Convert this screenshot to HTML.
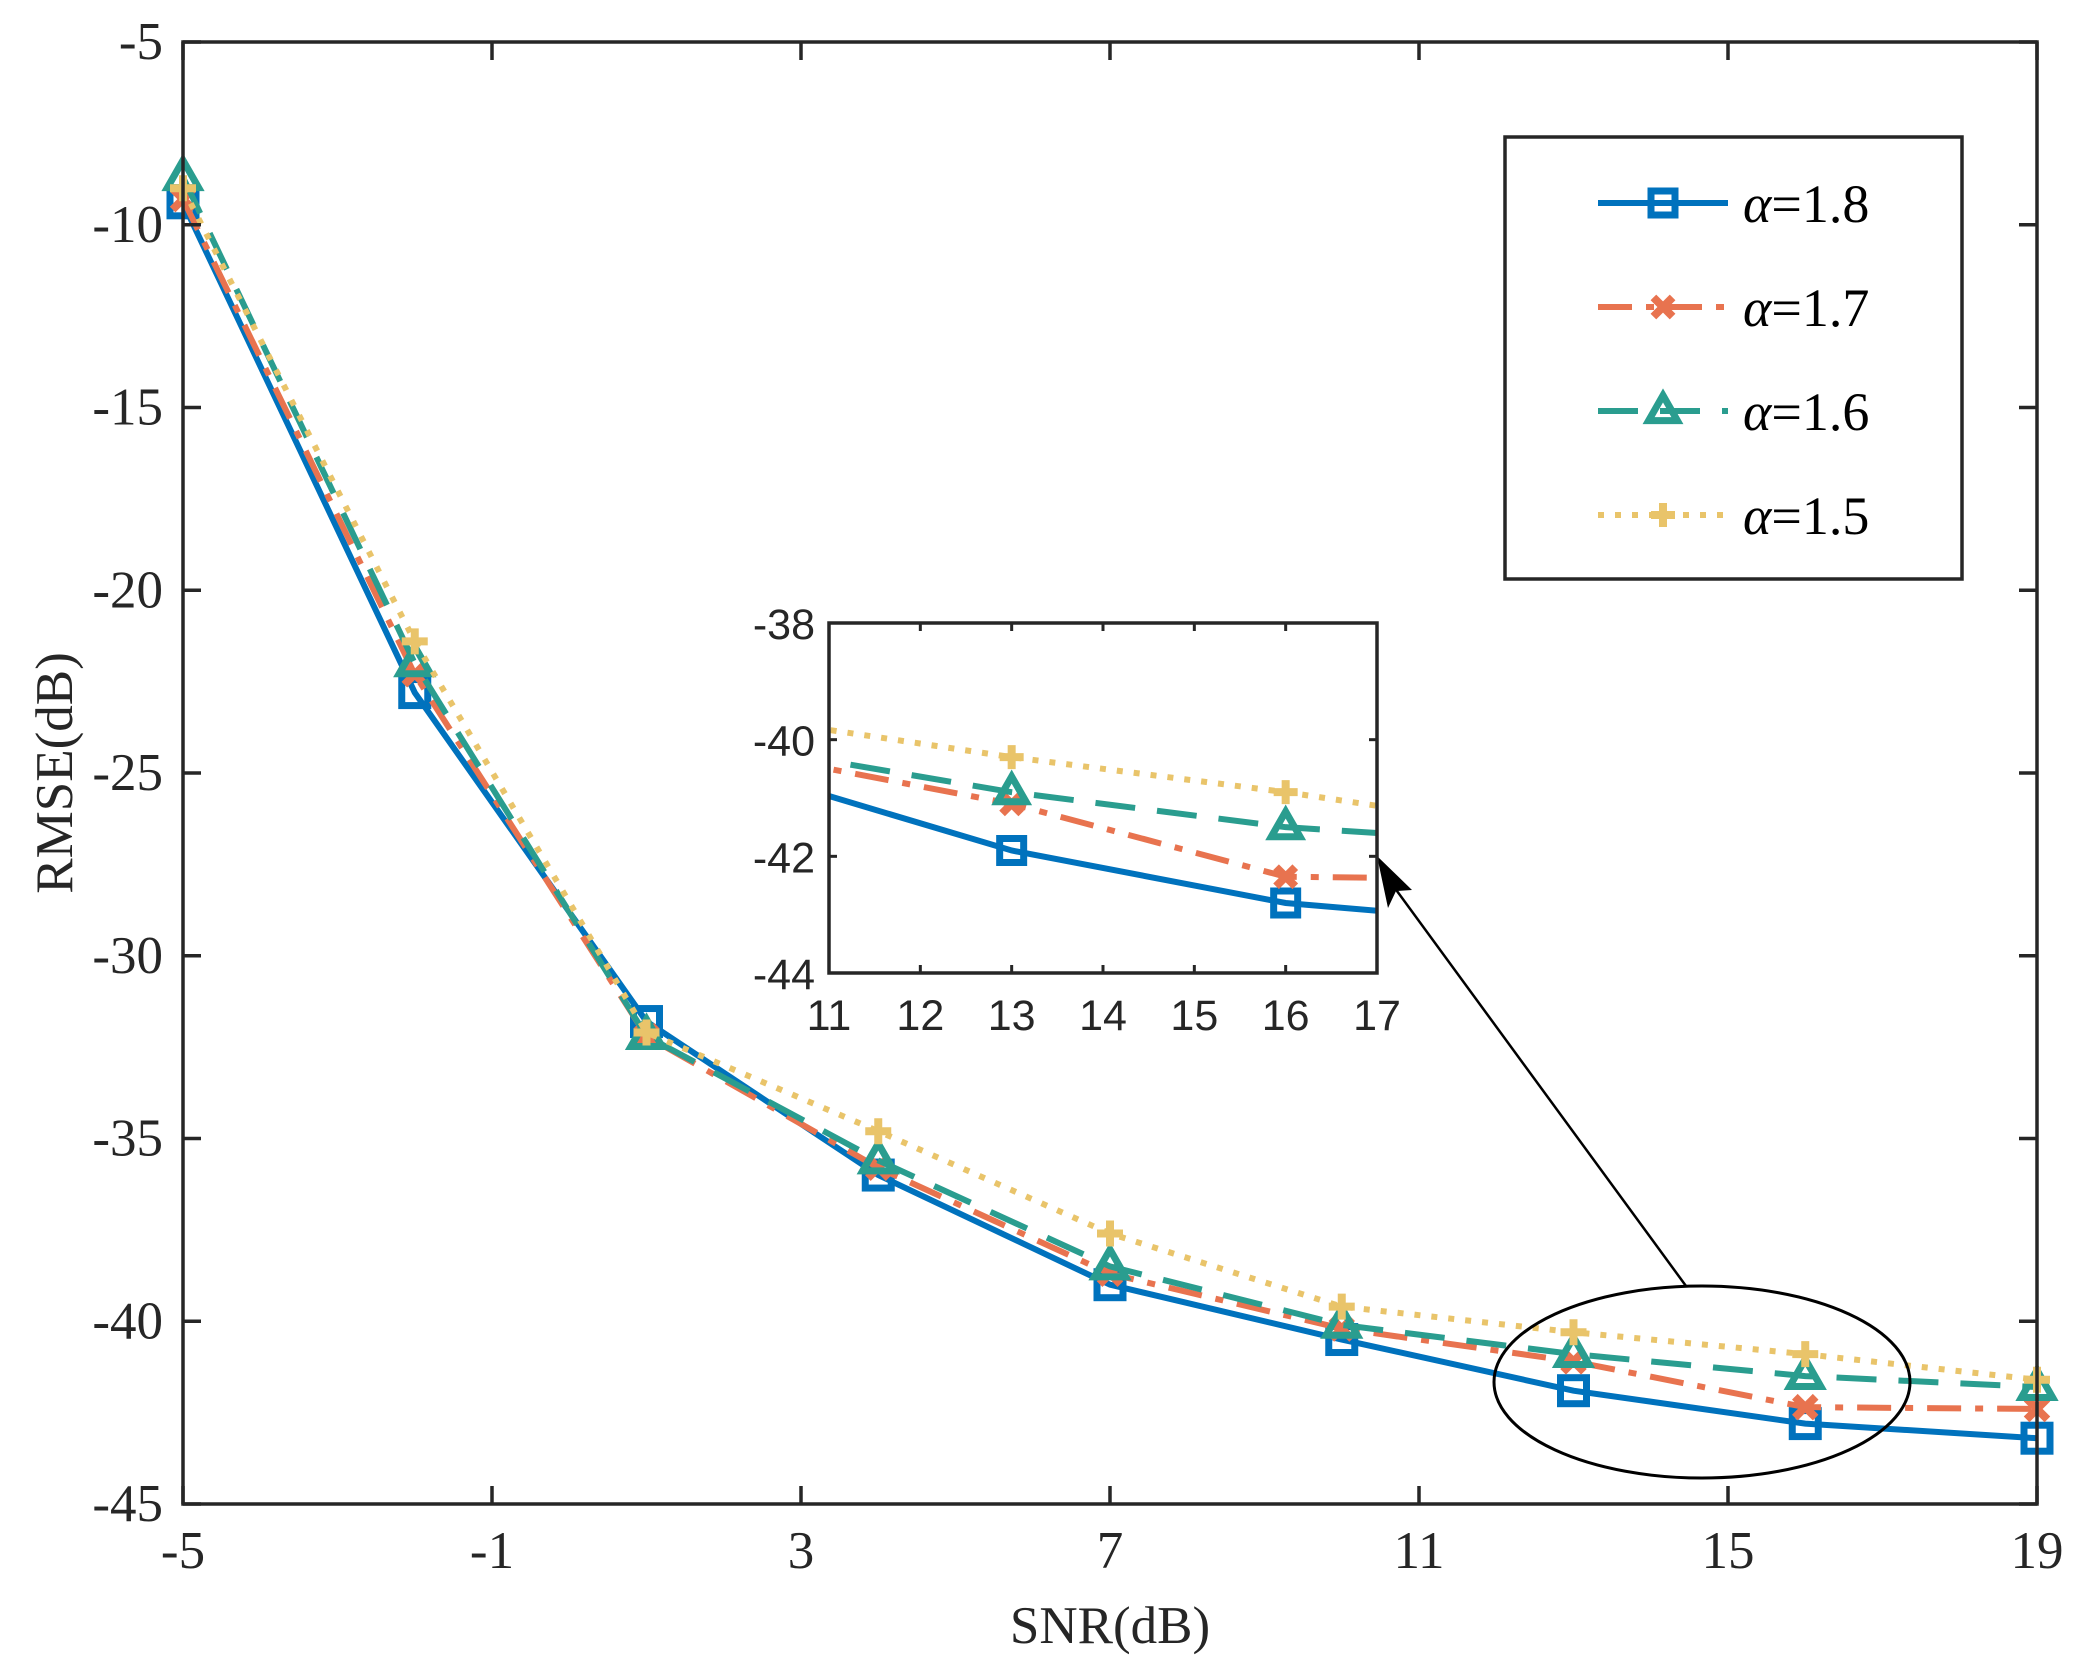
<!DOCTYPE html>
<html><head><meta charset="utf-8"><style>
html,body{margin:0;padding:0;background:#fff}
svg{display:block}
.tk{font-family:"Liberation Serif",serif;font-size:53px;fill:#262626}
.it{font-family:"Liberation Sans",sans-serif;font-size:43px;fill:#262626}
</style></head><body>
<svg id="chart" width="2092" height="1676" viewBox="0 0 2092 1676" xmlns="http://www.w3.org/2000/svg">
<defs>
<clipPath id="insetClip"><rect x="829" y="623" width="548" height="350"/></clipPath>
</defs>
<g id="main"></g>
<g id="inset"></g>
<g id="legend"></g>
</svg>
<script>
const snr = [-5, -2, 1, 4, 7, 10, 13, 16, 19];
const alpha18 = [-9.4, -22.8, -31.8, -36.0, -39.0, -40.5, -41.9, -42.8, -43.2];
const alpha17 = [-9.3, -22.3, -32.2, -35.8, -38.7, -40.2, -41.1, -42.35, -42.4];
const alpha16 = [-8.7, -22.0, -32.2, -35.6, -38.5, -40.1, -40.9, -41.5, -41.8];
const alpha15 = [-9.0, -21.4, -32.1, -34.8, -37.6, -39.6, -40.3, -40.9, -41.6];
const seriesNames = ["α=1.8", "α=1.7", "α=1.6", "α=1.5"];
const xTicks = [-5, -1, 3, 7, 11, 15, 19];
const yTicks = [-5, -10, -15, -20, -25, -30, -35, -40, -45];
const insetXTicks = [11, 12, 13, 14, 15, 16, 17];
const insetYTicks = [-38, -40, -42, -44];

const NS = "http://www.w3.org/2000/svg";
function mk(tag, attrs, parent) {
  const e = document.createElementNS(NS, tag);
  for (const k in attrs) e.setAttribute(k, attrs[k]);
  parent.appendChild(e);
  return e;
}
const styles = [
  {color:"#0072BD", dash:"", marker:"square", key:"alpha-1-8"},
  {color:"#E8734F", dash:"34 14 8 14", marker:"x", key:"alpha-1-7"},
  {color:"#2A9D8F", dash:"40 22", marker:"tri", key:"alpha-1-6"},
  {color:"#E9C46A", dash:"6 11", marker:"plus", key:"alpha-1-5"}
];
const data = [alpha18, alpha17, alpha16, alpha15];

function drawMarker(g, type, cx, cy, color, s) {
  let m;
  if (type === "square") m = mk("rect", {x:cx-s/2, y:cy-s/2, width:s, height:s, fill:"none", stroke:color, "stroke-width":7}, g);
  else if (type === "x") m = mk("path", {d:`M${cx-s/2.5},${cy-s/2.5}L${cx+s/2.5},${cy+s/2.5}M${cx+s/2.5},${cy-s/2.5}L${cx-s/2.5},${cy+s/2.5}`, stroke:color, "stroke-width":8, fill:"none"}, g);
  else if (type === "tri") m = mk("path", {d:`M${cx},${cy-s*0.65}L${cx+s*0.6},${cy+s*0.4}L${cx-s*0.6},${cy+s*0.4}Z`, stroke:color, "stroke-width":7, fill:"none"}, g);
  else m = mk("path", {d:`M${cx-s/2},${cy}L${cx+s/2},${cy}M${cx},${cy-s/2}L${cx},${cy+s/2}`, stroke:color, "stroke-width":8, fill:"none"}, g);
  return m;
}

// main axes
const L=183, R=2037, T=42, B=1504;
const xs = v => L + (v + 5) / 24 * (R - L);
const ys = v => T + (-5 - v) / 40 * (B - T);
const main = document.getElementById("main");
for (let i = 0; i < data.length; i++) {
  const st = styles[i];
  const g = mk("g", {}, main);
  
  
  const pts = snr.map((x, j) => xs(x) + "," + ys(data[i][j])).join(" ");
  const pl = mk("polyline", {points:pts, fill:"none", stroke:st.color, "stroke-width":6, "stroke-dasharray":st.dash}, g);
  
  
  snr.forEach((x, j) => {
    const m = drawMarker(g, st.marker, xs(x), ys(data[i][j]), st.color, 26);
    
    
  });
}
const frame = mk("rect", {x:L, y:T, width:R-L, height:B-T, fill:"none", stroke:"#262626", "stroke-width":3.5}, main);


xTicks.forEach(v => {
  const x = xs(v);
  mk("line", {x1:x, y1:B, x2:x, y2:B-18, stroke:"#262626", "stroke-width":3.5}, main);
  mk("line", {x1:x, y1:T, x2:x, y2:T+18, stroke:"#262626", "stroke-width":3.5}, main);
  const t = mk("text", {x:x, y:B+64, "text-anchor":"middle", class:"tk"}, main);
  t.textContent = v;
  
  
});
yTicks.forEach(v => {
  const y = ys(v);
  mk("line", {x1:L, y1:y, x2:L+18, y2:y, stroke:"#262626", "stroke-width":3.5}, main);
  mk("line", {x1:R, y1:y, x2:R-18, y2:y, stroke:"#262626", "stroke-width":3.5}, main);
  const t = mk("text", {x:L-20, y:y+17, "text-anchor":"end", class:"tk"}, main);
  t.textContent = v;
  
  
});
const xt = mk("text", {x:(L+R)/2, y:1643, "text-anchor":"middle", class:"tk"}, main);
xt.textContent = "SNR(dB)";


const yt = mk("text", {x:0, y:0, "text-anchor":"middle", class:"tk", transform:"translate(72,773) rotate(-90)"}, main);
yt.textContent = "RMSE(dB)";



// ellipse and arrow
const el = mk("ellipse", {cx:1702, cy:1382, rx:208, ry:96, fill:"none", stroke:"#000", "stroke-width":3}, main);


const ar = mk("line", {x1:1686, y1:1286, x2:1386, y2:876, stroke:"#000", "stroke-width":2.5}, main);


const ah = mk("path", {d:"M1377,856 L1412,890 L1396,891 L1388,908 Z", fill:"#000"}, main);



// inset
const IL=829, IR=1377, IT=623, IB=973;
const ixs = v => IL + (v - 11) / 6 * (IR - IL);
const iys = v => IT + (-38 - v) / 6 * (IB - IT);
const inset = document.getElementById("inset");


mk("rect", {x:IL, y:IT, width:IR-IL, height:IB-IT, fill:"#fff"}, inset);
const ig = mk("g", {"clip-path":"url(#insetClip)"}, inset);
for (let i = 0; i < data.length; i++) {
  const st = styles[i];
  const pts = snr.map((x, j) => ixs(x) + "," + iys(data[i][j])).join(" ");
  const pl = mk("polyline", {points:pts, fill:"none", stroke:st.color, "stroke-width":6, "stroke-dasharray":st.dash}, ig);
  
  
  snr.forEach((x, j) => {
    if (x < 11 || x > 17) return;
    const m = drawMarker(ig, st.marker, ixs(x), iys(data[i][j]), st.color, 24);
    
    
  });
}
mk("rect", {x:IL, y:IT, width:IR-IL, height:IB-IT, fill:"none", stroke:"#262626", "stroke-width":3.5}, inset);
insetXTicks.forEach(v => {
  const x = ixs(v);
  mk("line", {x1:x, y1:IB, x2:x, y2:IB-8, stroke:"#262626", "stroke-width":3}, inset);
  mk("line", {x1:x, y1:IT, x2:x, y2:IT+8, stroke:"#262626", "stroke-width":3}, inset);
  const t = mk("text", {x:x, y:IB+57, "text-anchor":"middle", class:"it"}, inset);
  t.textContent = v;
  
  
});
insetYTicks.forEach(v => {
  const y = iys(v);
  mk("line", {x1:IL, y1:y, x2:IL+8, y2:y, stroke:"#262626", "stroke-width":3}, inset);
  mk("line", {x1:IR, y1:y, x2:IR-8, y2:y, stroke:"#262626", "stroke-width":3}, inset);
  const t = mk("text", {x:IL-14, y:y+16, "text-anchor":"end", class:"it"}, inset);
  t.textContent = v;
  
  
});

// legend
const lg = document.getElementById("legend");


mk("rect", {x:1505, y:137, width:457, height:442, fill:"#fff", stroke:"#262626", "stroke-width":3.5}, lg);
const ly = [203, 307, 411, 515];
for (let i = 0; i < 4; i++) {
  const st = styles[i];
  const g = mk("g", {}, lg);
  
  
  mk("line", {x1:1598, y1:ly[i], x2:1728, y2:ly[i], stroke:st.color, "stroke-width":6, "stroke-dasharray":st.dash}, g);
  drawMarker(g, st.marker, 1663, ly[i], st.color, 24);
  const t = mk("text", {x:1743, y:ly[i]+19, class:"tk", style:"font-size:54px;fill:#000"}, g);
  const a = mk("tspan", {"font-style":"italic"}, t);
  a.textContent = seriesNames[i].charAt(0);
  const r = mk("tspan", {}, t);
  r.textContent = seriesNames[i].slice(1);
}
</script>
</body></html>
